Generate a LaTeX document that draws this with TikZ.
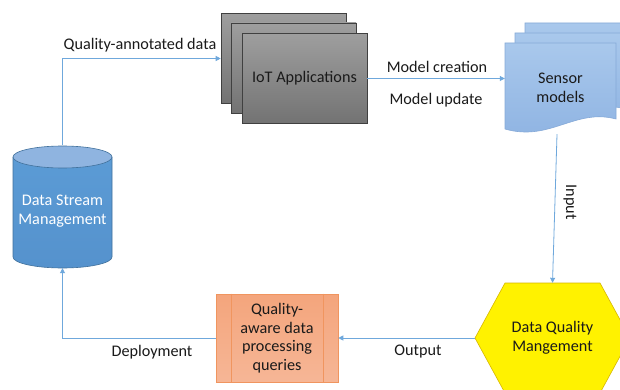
\documentclass[tikz,border=0pt]{standalone}
\usepackage{fontspec}
\setmainfont{Carlito}
\usetikzlibrary{arrows.meta,calc}
\definecolor{conn}{HTML}{6FA8DC}
\definecolor{iotline}{HTML}{404040}
\definecolor{smline}{HTML}{86AAD8}
\definecolor{cylline}{HTML}{41719C}
\definecolor{hexline}{HTML}{D6B600}
\definecolor{qaline}{HTML}{F0955F}
\definecolor{txt}{HTML}{1A1A1A}
\definecolor{smtop}{HTML}{A9C8EC}
\definecolor{smbot}{HTML}{8EB3E2}
\definecolor{cylbodyA}{HTML}{5B9BD5}
\definecolor{cylbodyB}{HTML}{5592CD}
\definecolor{cyltop}{HTML}{8FB4E0}
\definecolor{qatop}{HTML}{F4A57C}
\definecolor{qabot}{HTML}{F6B696}
\tikzset{
  conn/.style={draw=conn, line width=0.8pt, -{Triangle[width=5pt,length=5pt]}},
  lbl/.style={text=txt, inner sep=0pt},
  iotbox/.style={draw=iotline, line width=0.6pt, top color=black!38, bottom color=black!55,
     minimum width=125pt, minimum height=90pt, inner sep=0pt},
  smlayer/.style={draw=smline, line width=0.6pt, top color=smtop, bottom color=smbot},
}
\begin{document}
\begin{tikzpicture}[x=1pt,y=-1pt,font=\fontsize{16.2}{19.5}\selectfont]
\useasboundingbox[fill=white] (0,0) rectangle (620,390);

% IoT applications (stacked)
\node[iotbox] (iot3) at (283.5,58.5) {};
\node[iotbox] (iot2) at (293.5,68) {};
\node[iotbox, text=txt] (iot) at (304.5,78.5) {IoT Applications};

% Sensor models (multi-document)
\begin{scope}[shift={(20,-20)}]
\path[smlayer] (505,43) -- (616,43) -- (616,119) .. controls (575,108) and (550,142) .. (505,129) -- cycle;
\end{scope}
\begin{scope}[shift={(10,-10)}]
\path[smlayer] (505,43) -- (616,43) -- (616,119) .. controls (575,108) and (550,142) .. (505,129) -- cycle;
\end{scope}
\path[smlayer] (505,43) -- (616,43) -- (616,119) .. controls (575,108) and (550,142) .. (505,129) -- cycle;
\node[minimum width=111pt, minimum height=92pt, align=center, text=txt, inner sep=0pt] (sm) at (560.5,88) {Sensor\\models};

% Data stream management (cylinder)
\shade[top color=cylbodyA, bottom color=cylbodyB] (13,157) -- (13,257) arc[start angle=180,end angle=0,x radius=49.5,y radius=11] -- (112,157) -- cycle;
\draw[cylline, line width=0.6pt] (13,157) -- (13,257) arc[start angle=180,end angle=0,x radius=49.5,y radius=11] -- (112,157);
\filldraw[fill=cyltop, draw=cylline, line width=0.6pt] (62.5,157) ellipse [x radius=49.5, y radius=11];
\node[minimum width=99pt, minimum height=123pt, inner sep=0pt] (dsm) at (62.5,206.5) {};
\node[align=center, text=white, inner sep=0pt] (dsmtext) at (62.5,211) {Data Stream\\Management};

% Data quality management (hexagon)
\filldraw[fill=yellow, draw=hexline, line width=0.6pt] (505,283) -- (600,283) -- (630,338) -- (600,393) -- (505,393) -- (475,338) -- cycle;
\node[minimum width=155pt, minimum height=110pt, align=center, text=txt, inner sep=0pt] (dqm) at (552.5,338) {Data Quality\\Mangement};

% Quality-aware queries (predefined process)
\node[draw=qaline, line width=0.6pt, top color=qatop, bottom color=qabot, minimum width=122pt, minimum height=88pt, inner sep=0pt, align=center, text=txt, font=\fontsize{16.2}{18.5}\selectfont] (qa) at (277,338) {Quality-\\aware data\\processing\\queries};
\draw[qaline, line width=0.6pt] ($(qa.north west)+(16,0)$) -- ($(qa.south west)+(16,0)$);
\draw[qaline, line width=0.6pt] ($(qa.north east)+(-15,0)$) -- ($(qa.south east)+(-15,0)$);

% connectors
\draw[conn] (dsm.north) |- (iot3.west);
\draw[conn] (iot.east) -- (iot.east -| sm.west);
\draw[conn] ([xshift=-3.5pt]sm.south) -- (dqm.north);
\draw[conn] (dqm.west) -- (qa.east);
\draw[conn] (qa.west) -| (dsm.south);

% labels
\node[lbl] (l1) at (140,45) {Quality-annotated data};
\node[lbl] (l2) at (437,67) {Model creation};
\node[lbl] (l3) at (436,100) {Model update};
\node[lbl, rotate=-90] (l4) at (570,202) {Input};
\node[lbl] (l5) at (418,352) {Output};
\node[lbl] (l6) at (152,352) {Deployment};
\end{tikzpicture}
\end{document}
